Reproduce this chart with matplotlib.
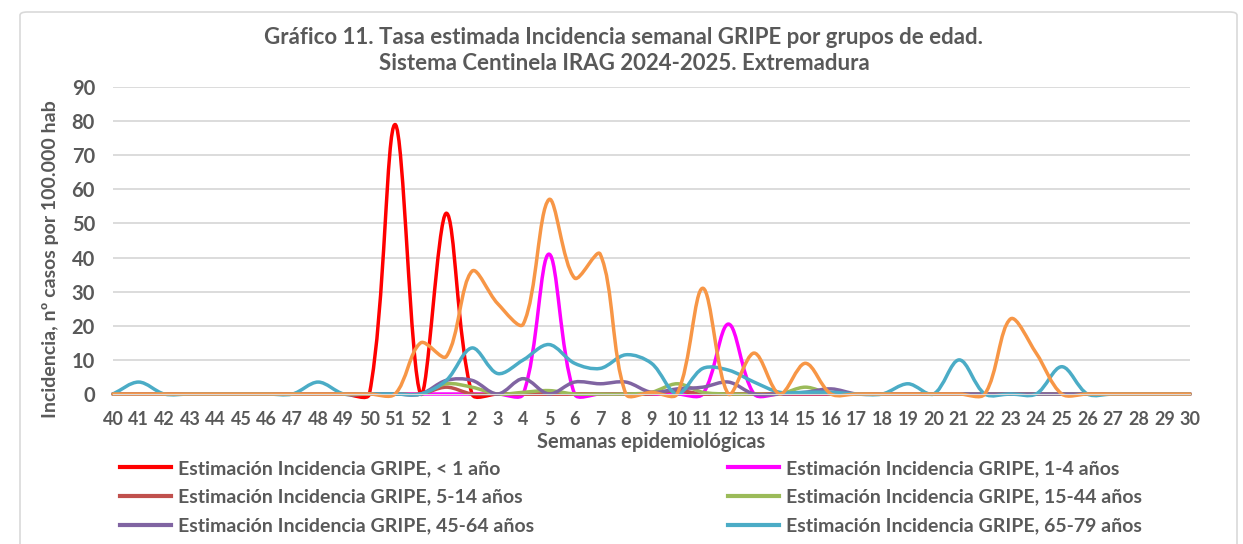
import matplotlib
matplotlib.use("Agg")
import math
import matplotlib.pyplot as plt
from matplotlib.path import Path
from matplotlib.patches import PathPatch, FancyBboxPatch
from matplotlib.lines import Line2D

plt.rcParams['font.family'] = ['Lato', 'DejaVu Sans']
plt.rcParams['font.weight'] = 'bold'
plt.rcParams['axes.labelweight'] = 'bold'

textColor = "#595959"

# Semanas epidemiológicas 40..52 (2024) y 1..30 (2025)
weeks = [str(w) for w in range(40, 53)] + [str(w) for w in range(1, 31)]

# Tasas estimadas por 100.000 hab
#          40 41 42 43 44 45 46 47 48 49 50 51  52  1   2   3   4   5   6   7   8   9  10  11  12  13 14 15 16 17 18 19 20 21 22 23 24 25 26 27 28 29 30
menor1 = [0, 0, 0, 0, 0, 0, 0, 0, 0, 0, 0, 79, 0, 53, 0, 0, 0, 0, 0, 0, 0, 0, 0, 0, 0, 0, 0, 0, 0, 0, 0, 0, 0, 0, 0, 0, 0, 0, 0, 0, 0, 0, 0]
de1a4 = [0, 0, 0, 0, 0, 0, 0, 0, 0, 0, 0, 0, 0, 0, 0, 0, 0, 41, 0, 0, 0, 0, 0, 0, 20.5, 0, 0, 0, 0, 0, 0, 0, 0, 0, 0, 0, 0, 0, 0, 0, 0, 0, 0]
de5a14 = [0, 0, 0, 0, 0, 0, 0, 0, 0, 0, 0, 0, 0, 2, 0, 0, 0, 0, 0, 0, 0, 0, 1, 0, 0, 0, 0, 0, 0, 0, 0, 0, 0, 0, 0, 0, 0, 0, 0, 0, 0, 0, 0]
de15a44 = [0, 0, 0, 0, 0, 0, 0, 0, 0, 0, 0, 0, 0, 3, 2, 0, 0.5, 1, 0, 0, 0, 0.5, 3, 0.5, 0, 0, 0, 2, 0, 0, 0, 0, 0, 0, 0, 0, 0, 0, 0, 0, 0, 0, 0]
de45a64 = [0, 0, 0, 0, 0, 0, 0, 0, 0, 0, 0, 0, 0, 4, 4, 0, 4.5, 0, 3.5, 3, 3.5, 0.5, 1.5, 2, 3.5, 0, 0, 0.5, 1.5, 0, 0, 0, 0, 0, 0, 0, 0, 0, 0, 0, 0, 0, 0]
de65a79 = [0, 3.5, 0, 0, 0, 0, 0, 0, 3.5, 0, 0, 0, 0, 4, 13.5, 6, 10, 14.5, 9, 7.5, 11.5, 9, 0, 7.5, 7, 3.5, 0.5, 0.5, 0.5, 0, 0, 3, 0, 10, 0, 0, 0, 8, 0, 0, 0, 0, 0]
mayor80 = [0, 0, 0, 0, 0, 0, 0, 0, 0, 0, 0, 0, 15, 11, 36, 26.5, 20.5, 57, 34, 41, 0, 0.5, 0, 31, 0, 12, 0, 9, 0, 0, 0, 0, 0, 0, 0, 22, 12, 0, 0, 0, 0, 0, 0]

seriesList = [
    ("Estimación Incidencia GRIPE, < 1 año", menor1, "#FF0000"),
    ("Estimación Incidencia GRIPE, 1-4 años", de1a4, "#FF00FF"),
    ("Estimación Incidencia GRIPE, 5-14 años", de5a14, "#C0504D"),
    ("Estimación Incidencia GRIPE, 15-44 años", de15a44, "#9BBB59"),
    ("Estimación Incidencia GRIPE, 45-64 años", de45a64, "#8064A2"),
    ("Estimación Incidencia GRIPE, 65-79 años", de65a79, "#4BACC6"),
    ("Estimación Incidencia GRIPE, ≥ 80 años", mayor80, "#F79646"),
]

# escala aproximada en pantalla (px por semana, px por unidad) para el suavizado
xScale = 25.6
yScale = 3.41


# Curva suavizada tipo Excel: Bezier cúbicos con tangentes ponderadas por la
# longitud de cada tramo en pantalla
def smoothPath(values):
    n = len(values)
    pts = [(i * xScale, v * yScale) for i, v in enumerate(values)]

    def dist(a, b):
        return math.hypot(b[0] - a[0], b[1] - a[1])

    before, after = [], []
    for i in range(n):
        prev = pts[i - 1] if i > 0 else pts[i]
        nxt = pts[i + 1] if i < n - 1 else pts[i]
        dPrev = dist(prev, pts[i])
        dNext = dist(pts[i], nxt)
        total = dPrev + dNext
        tx, ty = nxt[0] - prev[0], nxt[1] - prev[1]
        fPrev = dPrev / total / 3 if total else 0
        fNext = dNext / total / 3 if total else 0
        before.append((pts[i][0] - tx * fPrev, pts[i][1] - ty * fPrev))
        after.append((pts[i][0] + tx * fNext, pts[i][1] + ty * fNext))

    verts = [pts[0]]
    codes = [Path.MOVETO]
    for i in range(n - 1):
        verts += [after[i], before[i + 1], pts[i + 1]]
        codes += [Path.CURVE4] * 3
    verts = [(x / xScale, y / yScale) for x, y in verts]
    return Path(verts, codes)


fig = plt.figure(figsize=(12.43, 5.44), dpi=100)

# Marco del gráfico
frame = FancyBboxPatch((20 / 1243, -0.05), 1217 / 1243, 1.05 - 12 / 544,
                       boxstyle="round,pad=0,rounding_size=0.006",
                       transform=fig.transFigure, facecolor="none",
                       edgecolor="#d9d9d9", linewidth=1.2, zorder=-1)
fig.patches.append(frame)

ax = fig.add_axes([113 / 1243, 1 - 394 / 544, 1077 / 1243, 307 / 544])
ax.set_facecolor("none")

for label, values, color in seriesList:
    patch = PathPatch(smoothPath(values), facecolor="none", edgecolor=color,
                      linewidth=2.5, transform=ax.transData, clip_on=False,
                      capstyle="round", joinstyle="round")
    ax.add_patch(patch)

ax.set_xlim(0, len(weeks) - 1)
ax.set_ylim(0, 90)
ax.set_yticks(range(0, 91, 10))
ax.set_xticks(range(len(weeks)))
ax.set_xticklabels(weeks, fontweight="bold")
ax.set_yticklabels([str(v) for v in range(0, 91, 10)], fontweight="bold")
ax.grid(axis="y", color="#d9d9d9", linewidth=1.3)
ax.set_axisbelow(True)
for side in ["top", "right", "left"]:
    ax.spines[side].set_visible(False)
ax.spines["bottom"].set_color("#d9d9d9")
ax.tick_params(axis="both", length=0, colors=textColor)
ax.tick_params(axis="x", pad=12, labelsize=13)
ax.tick_params(axis="y", pad=13, labelsize=14.5)

ax.set_xlabel("Semanas epidemiológicas", fontsize=14.5, color=textColor,
              fontweight="bold", labelpad=3)
ax.set_ylabel("Incidencia, nº casos por 100.000 hab", fontsize=14, color=textColor,
              fontweight="bold")
ax.yaxis.set_label_coords(-0.05, 0.44)

fig.text(624 / 1243, 1 - 37 / 544,
         "Gráfico 11. Tasa estimada Incidencia semanal GRIPE por grupos de edad.",
         ha="center", va="center", fontsize=16, color=textColor)
fig.text(624 / 1243, 1 - 63 / 544,
         "Sistema Centinela IRAG 2024-2025. Extremadura",
         ha="center", va="center", fontsize=16, color=textColor)

# Leyenda en dos columnas (la última fila queda fuera del recorte)
leftHandles = [Line2D([], [], color=c, linewidth=3) for _, _, c in seriesList[0:6:2]]
leftLabels = [l for l, _, _ in seriesList[0:6:2]]
rightHandles = [Line2D([], [], color=c, linewidth=3) for _, _, c in seriesList[1:6:2]]
rightLabels = [l for l, _, _ in seriesList[1:6:2]]

legendStyle = dict(frameon=False, fontsize=14, labelcolor=textColor, handlelength=2.6,
                   handletextpad=0.4, labelspacing=0.6, borderaxespad=0, borderpad=0)
fig.legend(leftHandles, leftLabels, loc="upper left",
           bbox_to_anchor=(120 / 1243, 1 - 460 / 544), **legendStyle)
fig.legend(rightHandles, rightLabels, loc="upper left",
           bbox_to_anchor=(728 / 1243, 1 - 460 / 544), **legendStyle)

fig.savefig("out.png", dpi=100)
